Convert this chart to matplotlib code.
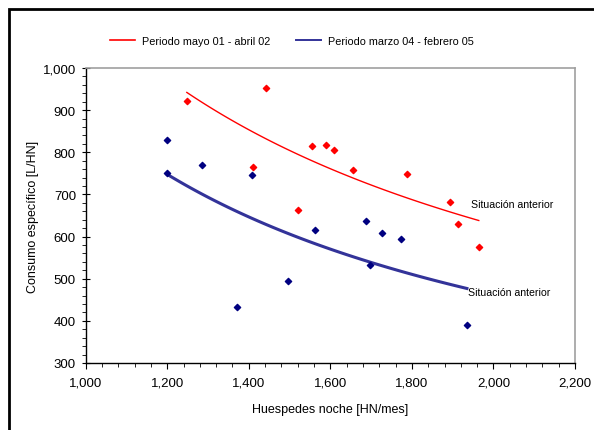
import numpy as np
import matplotlib
matplotlib.use("Agg")
import matplotlib.pyplot as plt
from matplotlib.lines import Line2D
from matplotlib.patches import Rectangle
from matplotlib.ticker import MultipleLocator, StrMethodFormatter

plt.rcParams["font.family"] = ["Liberation Sans", "DejaVu Sans"]

# Periodo mayo 01 - abril 02
x_old = [1248, 1442, 1411, 1521, 1554, 1590, 1610, 1656, 1787, 1894, 1912, 1964]
y_old = [922, 952, 764, 664, 814, 818, 805, 759, 748, 682, 630, 575]

# Periodo marzo 04 - febrero 05
x_new = [1200, 1200, 1286, 1408, 1372, 1497, 1562, 1687, 1698, 1726, 1773, 1935]
y_new = [830, 751, 770, 746, 433, 494, 615, 636, 533, 609, 594, 390]

label_old = "Periodo mayo 01 - abril 02"
label_new = "Periodo marzo 04 - febrero 05"
note = "Situación anterior"


def power_trend(x, y):
    # same as a spreadsheet power trendline: y = a * x^b
    b, ln_a = np.polyfit(np.log(x), np.log(y), 1)
    xs = np.linspace(min(x), max(x), 100)
    return xs, np.exp(ln_a) * xs ** b


fig = plt.figure(figsize=(5.94, 4.31), dpi=100)
ax = fig.add_axes([85.7 / 594, 1 - 364 / 431, (575 - 85.7) / 594, (364 - 69) / 431])

xs, ys = power_trend(x_old, y_old)
ax.plot(xs, ys, color="#FF0000", lw=1.0)
xs, ys = power_trend(x_new, y_new)
ax.plot(xs, ys, color="#333399", lw=2.2)

ax.scatter(x_old, y_old, marker="D", s=10, color="#FF0000", zorder=3)
ax.scatter(x_new, y_new, marker="D", s=10, color="#000080", zorder=3)

ax.text(1944, 677, note, fontsize=7.6, va="center", ha="left")
ax.text(1937, 468, note, fontsize=7.6, va="center", ha="left")

ax.set_xlim(1000, 2200)
ax.set_ylim(300, 1000)
ax.xaxis.set_major_locator(MultipleLocator(200))
ax.xaxis.set_minor_locator(MultipleLocator(40))
ax.yaxis.set_major_locator(MultipleLocator(100))
ax.yaxis.set_minor_locator(MultipleLocator(20))
ax.xaxis.set_major_formatter(StrMethodFormatter("{x:,.0f}"))
ax.yaxis.set_major_formatter(StrMethodFormatter("{x:,.0f}"))
ax.tick_params(axis="x", which="major", direction="out", length=4, labelsize=9.5, pad=6)
ax.tick_params(axis="x", which="minor", direction="out", length=3)
ax.tick_params(axis="y", which="major", direction="inout", length=6, labelsize=9.5, pad=4)
ax.tick_params(axis="y", which="minor", direction="out", length=3)

for side in ["top", "right"]:
    ax.spines[side].set_color("#A0A0A0")
    ax.spines[side].set_linewidth(1.2)
for side in ["left", "bottom"]:
    ax.spines[side].set_color("black")
    ax.spines[side].set_linewidth(1.0)

ax.set_xlabel("Huespedes noche [HN/mes]", fontsize=9, labelpad=10)
ax.set_ylabel("Consumo específico [L/HN]", fontsize=9, labelpad=3)

handles = [Line2D([], [], color="#FF0000", lw=1.2),
           Line2D([], [], color="#333399", lw=1.4)]
fig.legend(handles, [label_old, label_new], loc="center",
           bbox_to_anchor=(292 / 594, 1 - 42 / 431), ncol=2, frameon=False,
           fontsize=7.8, handlelength=2.3, handletextpad=0.65, columnspacing=2.4)

# outer frame of the chart
fig.patches.append(Rectangle((9 / 594, -0.1), 1.1, 1 - 10 / 431 + 0.1,
                             transform=fig.transFigure, fill=False,
                             edgecolor="black", lw=2))

fig.savefig("out.png", dpi=100)
